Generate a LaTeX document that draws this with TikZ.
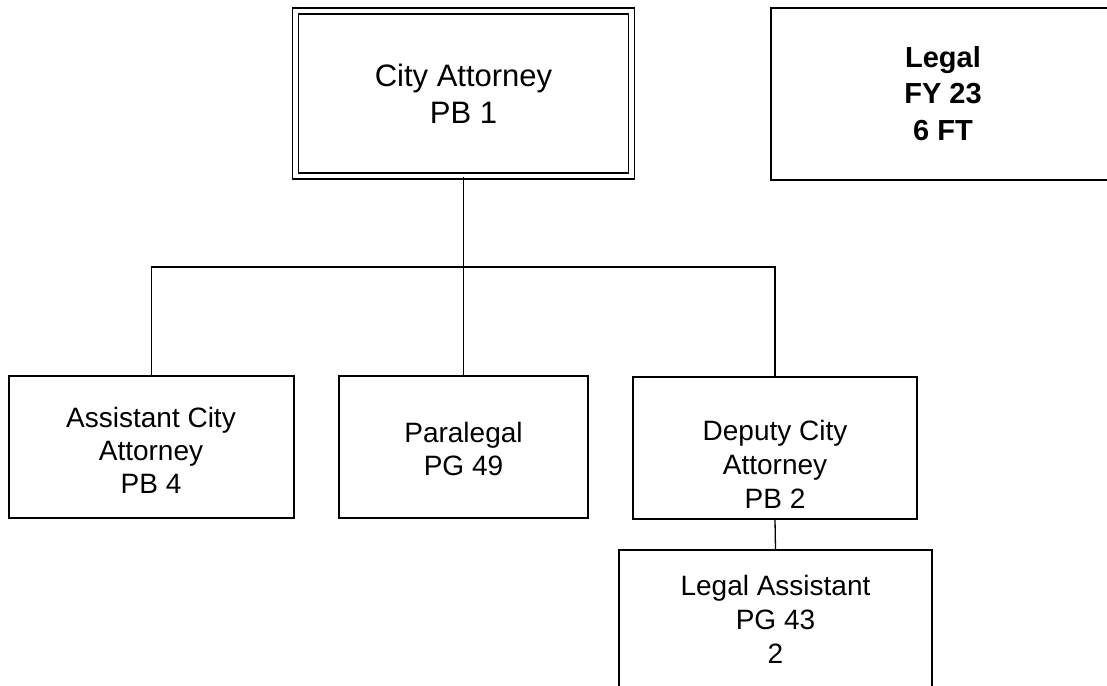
\documentclass[tikz,border=0pt]{standalone}
\usepackage{fontspec}
\setmainfont{Liberation Sans}
\begin{document}
\begin{tikzpicture}[x=1pt,y=-1pt,
  box/.style={draw=black, line width=1.2pt, inner sep=0pt, fill=white},
  lbl/.style={align=center, inner sep=0pt, font=\fontsize{28}{33}\selectfont},
  link/.style={draw=black, line width=1.3pt}]
\useasboundingbox (0,0) rectangle (1107,685);
\clip (0,0) rectangle (1107,685);

% top level
\node[box, double, double distance=4.8pt, minimum width=335.5pt, minimum height=165pt] (ca) at (463.5,93.5) {};
\node[lbl, font=\fontsize{31}{37}\selectfont] (catxt) at (463.5,93.5) {City Attorney\\PB 1};

% summary box
\node[box, minimum width=344pt, minimum height=172pt] (legal) at (943,94) {};
\node[lbl, font=\fontsize{29}{36.5}\selectfont\bfseries] (legaltxt) at (943,93.5) {Legal\\FY 23\\6 FT};

% second level
\node[box, minimum width=285pt, minimum height=142pt] (aca) at (151.5,447) {};
\node[lbl] (acatxt) at (151,450) {Assistant City\\Attorney\\PB 4};

\node[box, minimum width=249pt, minimum height=142pt] (para) at (463.5,447) {};
\node[lbl] (paratxt) at (463.5,448.5) {Paralegal\\PG 49};

\node[box, minimum width=284pt, minimum height=142pt] (deputy) at (775,448) {};
\node[lbl, font=\fontsize{28}{34}\selectfont] (deputytxt) at (775,464) {Deputy City\\Attorney\\PB 2};

% third level
\node[box, minimum width=313pt, minimum height=150pt] (la) at (775.5,625) {};
\node[lbl, font=\fontsize{28}{34}\selectfont] (latxt) at (775.5,619) {Legal Assistant\\PG 43\\2};

% connectors
\coordinate (bus) at (463.5,267);
\draw[link, line width=1.8pt] (ca.south) -- (bus);
\draw[link] (aca.north) -- (aca.north |- bus) -- (deputy.north |- bus) -- (deputy.north);
\draw[link] (para.north) -- (para.north |- bus);
\draw[link] (deputy.south) -- (la.north);
\end{tikzpicture}
\end{document}
